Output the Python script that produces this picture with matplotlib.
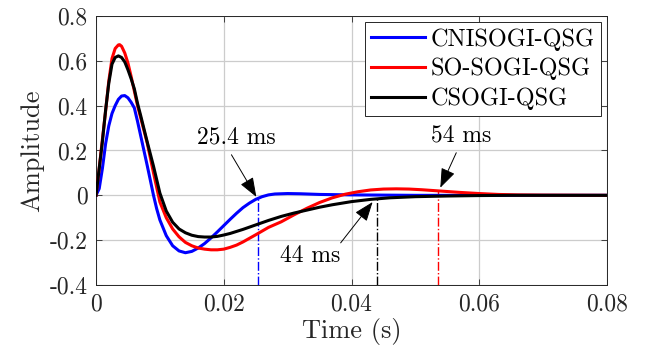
import matplotlib
matplotlib.use("Agg")
import matplotlib.pyplot as plt
import numpy as np

plt.rcParams['font.family'] = ['cmr10', 'DejaVu Serif']
plt.rcParams['axes.formatter.use_mathtext'] = True

# CNISOGI-QSG (blue)
t_blue = [0, 0.0005, 0.001, 0.0015, 0.002, 0.0025, 0.003, 0.0035, 0.004, 0.0045,
          0.005, 0.0055, 0.006, 0.0065, 0.007, 0.0075, 0.008, 0.0085, 0.009, 0.0095,
          0.010, 0.011, 0.012, 0.013, 0.014, 0.015, 0.016, 0.017, 0.018, 0.019,
          0.020, 0.021, 0.022, 0.023, 0.024, 0.025, 0.026, 0.027, 0.028, 0.030,
          0.032, 0.035, 0.040, 0.045, 0.050, 0.080]
y_blue = [0, 0.03, 0.12, 0.23, 0.31, 0.365, 0.40, 0.428, 0.443, 0.445,
          0.435, 0.415, 0.39, 0.33, 0.265, 0.20, 0.135, 0.068, 0.0, -0.06,
          -0.11, -0.18, -0.225, -0.248, -0.256, -0.25, -0.235, -0.215, -0.19, -0.163,
          -0.135, -0.107, -0.08, -0.055, -0.035, -0.018, -0.006, 0.002, 0.006, 0.008,
          0.007, 0.004, 0.002, 0.001, 0, 0]

# SO-SOGI-QSG (red)
t_red = [0, 0.0005, 0.001, 0.0015, 0.002, 0.0025, 0.003, 0.0035, 0.0037, 0.004,
         0.0045, 0.005, 0.0055, 0.006, 0.0065, 0.007, 0.008, 0.009, 0.010, 0.011,
         0.012, 0.013, 0.014, 0.015, 0.016, 0.017, 0.018, 0.019, 0.020, 0.021,
         0.022, 0.023, 0.024, 0.025, 0.027, 0.029, 0.031, 0.033, 0.035, 0.037,
         0.039, 0.041, 0.043, 0.045, 0.047, 0.049, 0.051, 0.053, 0.055, 0.057,
         0.060, 0.063, 0.066, 0.070, 0.080]
y_red = [0, 0.12, 0.25, 0.375, 0.51, 0.61, 0.655, 0.671, 0.672, 0.665,
         0.635, 0.59, 0.53, 0.465, 0.40, 0.345, 0.235, 0.10, -0.03, -0.10,
         -0.15, -0.185, -0.21, -0.225, -0.235, -0.24, -0.243, -0.243, -0.24, -0.232,
         -0.222, -0.208, -0.192, -0.176, -0.143, -0.118, -0.087, -0.058, -0.032, -0.011,
         0.005, 0.016, 0.024, 0.028, 0.029, 0.028, 0.025, 0.021, 0.017, 0.013,
         0.008, 0.004, 0.002, 0.001, 0]

# CSOGI-QSG (black)
t_black = [0, 0.0005, 0.001, 0.0015, 0.002, 0.0025, 0.003, 0.0035, 0.004, 0.0045,
           0.005, 0.0055, 0.006, 0.0065, 0.007, 0.008, 0.009, 0.010, 0.011, 0.012,
           0.013, 0.014, 0.015, 0.016, 0.017, 0.018, 0.019, 0.020, 0.021, 0.022,
           0.023, 0.025, 0.027, 0.029, 0.031, 0.033, 0.035, 0.037, 0.040, 0.043,
           0.046, 0.050, 0.055, 0.060, 0.065, 0.070, 0.080]
y_black = [0, 0.12, 0.24, 0.38, 0.50, 0.585, 0.615, 0.622, 0.615, 0.595,
           0.56, 0.52, 0.475, 0.41, 0.355, 0.24, 0.13, 0.01, -0.07, -0.12,
           -0.15, -0.167, -0.178, -0.184, -0.186, -0.186, -0.183, -0.177, -0.17, -0.161,
           -0.152, -0.132, -0.112, -0.094, -0.079, -0.066, -0.053, -0.042, -0.028, -0.018,
           -0.011, -0.006, -0.003, -0.001, 0, 0, 0]

labels = ['CNISOGI-QSG', 'SO-SOGI-QSG', 'CSOGI-QSG']
colors = ['#0000ff', '#ff0000', '#000000']

# settling times (s) and their labels
t_settle = [0.0254, 0.0536, 0.044]
settle_text = ['25.4 ms', '54 ms', '44 ms']

xticks = [0, 0.02, 0.04, 0.06, 0.08]
xticklabels = ['0', '0.02', '0.04', '0.06', '0.08']
yticks = [-0.4, -0.2, 0, 0.2, 0.4, 0.6, 0.8]
yticklabels = ['-0.4', '-0.2', '0', '0.2', '0.4', '0.6', '0.8']

fig = plt.figure(figsize=(6.47, 3.6), dpi=100)
ax = fig.add_axes([0.1484, 0.2083, 0.7898, 0.7473])

series = [(t_blue, y_blue), (t_red, y_red), (t_black, y_black)]
for (t, y), c, lab in zip(series, colors, labels):
    ax.plot(t, y, color=c, lw=2.2, label=lab, zorder=3)

# dash-dot markers of settling instants
for (t, y), c, ts in zip(series, colors, t_settle):
    top = np.interp(ts, t, y)
    ax.plot([ts, ts], [-0.4, top], color=c, lw=1.0, ls='-.', zorder=2)

arrow = dict(arrowstyle='-|>,head_length=1.2,head_width=0.45', color='black',
             lw=0.7, shrinkA=0, shrinkB=0)
ax.annotate('', xy=(0.0251, -0.007), xytext=(0.0212, 0.181), arrowprops=arrow, zorder=5)
ax.text(0.0219, 0.257, settle_text[0], fontsize=17, ha='center', va='center')
ax.annotate('', xy=(0.0539, 0.034), xytext=(0.0564, 0.19), arrowprops=arrow, zorder=5)
ax.text(0.0571, 0.265, settle_text[1], fontsize=17, ha='center', va='center')
ax.annotate('', xy=(0.0433, -0.03), xytext=(0.0383, -0.212), arrowprops=arrow, zorder=5)
ax.text(0.0335, -0.27, settle_text[2], fontsize=17, ha='center', va='center')

ax.set_xlim(0, 0.08)
ax.set_ylim(-0.4, 0.8)
ax.set_xticks(xticks)
ax.set_xticklabels(xticklabels)
ax.set_yticks(yticks)
ax.set_yticklabels(yticklabels)
ax.tick_params(direction='in', length=4, width=0.6, labelsize=17, colors='#262626',
               top=True, right=True, pad=6)
ax.grid(True, color='#cccccc', lw=0.9)
ax.set_axisbelow(True)
for s in ax.spines.values():
    s.set_color('#262626')
    s.set_linewidth(0.7)

ax.set_xlabel('Time (s)', fontsize=19, color='#262626', labelpad=2)
ax.set_ylabel('Amplitude', fontsize=19, color='#262626', labelpad=4)

leg = ax.legend(loc='upper right', fontsize=17.5, fancybox=False, framealpha=1,
                edgecolor='#262626', borderaxespad=0.25, borderpad=0.25,
                labelspacing=0.3, handlelength=2.2, handletextpad=0.25)
leg.get_frame().set_linewidth(0.7)

fig.savefig('out.png', dpi=100)
